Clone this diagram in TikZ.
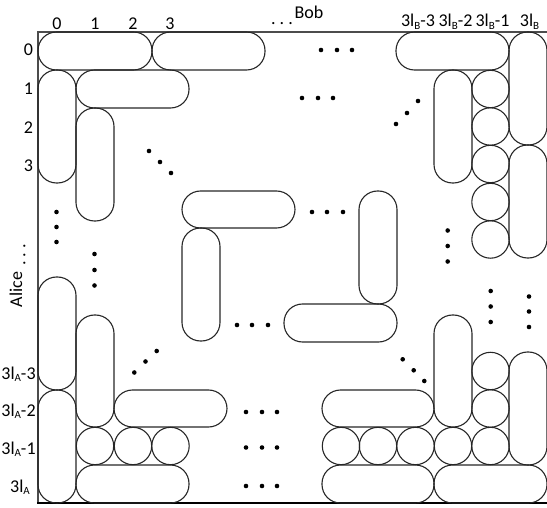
\documentclass[tikz,border=0pt]{standalone}
\usepackage{fontspec}
\setmainfont{Carlito}
\usetikzlibrary{positioning}
\newcommand\lsub[1]{\raisebox{-0.12em}{\fontsize{11}{12}\selectfont #1}}

\begin{document}
\begin{tikzpicture}[x=1pt, y=-1pt,
    pill/.style={draw=black!85, line width=1.1pt, rounded corners=18.5pt},
    bead/.style={draw=black!85, line width=1.1pt},
    dot/.style={fill=black},
    lbl/.style={font=\fontsize{18}{20}\selectfont, inner sep=0pt}
  ]
  \useasboundingbox (0,0) rectangle (547,508);
  % Frame
  \draw[line width=1.3pt, black!70] (547,32) -- (38,32) -- (38,503);
  \draw[line width=1.8pt] (37.4,503) -- (547,503);
  % Bob labels
  \node[lbl, anchor=base] (bob) at (309,18.5) {Bob};
  \node[lbl] (bdots) at (282,24) {.\ .\ .};
  \foreach \x/\t [count=\i] in {57/0,95/1,133/2,170/3}
    \node[lbl, anchor=base] (c\i) at (\x,30) {\t};
  \node[lbl, anchor=base] (cb3) at (418,27) {3l\lsub{B}-3};
  \node[lbl, anchor=base] (cb2) at (455.5,27) {3l\lsub{B}-2};
  \node[lbl, anchor=base] (cb1) at (492.5,27) {3l\lsub{B}-1};
  \node[lbl, anchor=base] (cb0) at (529.5,27) {3l\lsub{B}};
  % Alice labels
  \node[lbl, rotate=90] (alice) at (16,289.5) {Alice};
  \node[lbl, rotate=90] (adots) at (24.5,255) {.\ .\ .};
  \foreach \y/\t [count=\i] in {50/0,89/1,128/2,166/3}
    \node[lbl] (r\i) at (28.5,\y) {\t};
  \node[lbl, anchor=base] (ra3) at (18.5,379) {3l\lsub{A}-3};
  \node[lbl, anchor=base] (ra2) at (18.5,416) {3l\lsub{A}-2};
  \node[lbl, anchor=base] (ra1) at (18.5,454) {3l\lsub{A}-1};
  \node[lbl, anchor=base] (ra0) at (20,492) {3l\lsub{A}};
  % Top-left block
  \draw[pill] (38,32) rectangle (152,70);
  \draw[pill] (152,32) rectangle (265,70);
  \draw[pill] (38,70) rectangle (76,183);
  \draw[pill] (76,70) rectangle (189,108);
  \draw[pill] (76,108) rectangle (114,221);
  % Top-right block
  \draw[pill] (396,32) rectangle (509,70);
  \draw[pill] (509,32) rectangle (547,145);
  \draw[pill] (509,145) rectangle (547,258);
  \draw[pill] (434,70) rectangle (472,183);
  \foreach \y in {89,126.5,164,202,239.5}
    \draw[bead] (490.5,\y) circle (18.7);
  % Middle block
  \draw[pill] (182,191) rectangle (295,228);
  \draw[pill] (182,228) rectangle (220,341);
  \draw[pill] (359,191) rectangle (397,304);
  \draw[pill] (284,304) rectangle (397,342);
  % Bottom-left block
  \draw[pill] (38,277) rectangle (76,390);
  \draw[pill] (38,390) rectangle (76,503);
  \draw[pill] (76,315) rectangle (114,427);
  \draw[pill] (114,390) rectangle (227,427);
  \foreach \x in {95,133,170.5}
    \draw[bead] (\x,446) circle (18.7);
  \draw[pill] (76,465) rectangle (189,503);
  % Bottom-right block
  \draw[pill] (322,390) rectangle (434,427);
  \draw[pill] (434,315) rectangle (472,427);
  \draw[pill] (509,352) rectangle (547,465);
  \foreach \x in {341,378,415.5,453,490.5}
    \draw[bead] (\x,446) circle (18.7);
  \foreach \y in {371,408.5}
    \draw[bead] (490.5,\y) circle (18.7);
  \draw[pill] (322,465) rectangle (434,503);
  \draw[pill] (434,465) rectangle (547,503);
  % Dots
  \foreach \x/\y in {321/50,337/50,352/50, 302/98,318/98,333/98,
      396/124,407/113,418/101, 149/151,160/162,171/173,
      56.5/212,56.5/227,56.5/242, 94.5/254,94.5/270,94.5/285.5,
      237/325,252/325,268/325, 312/212,327/212,343/212,
      447.7/230.5,447.7/246,447.7/261.5, 490.7/291,490.7/306.5,490.7/322,
      529/296.5,529/311.5,529/327, 134.3/372.5,145.5/361.5,156.7/351,
      402.7/359.3,413.7/370.3,424.3/381,
      246/412,262/412,277/412, 246/447.5,262/447.5,277/447.5,
      246/486,262/486,277/486}
    \fill[dot] (\x,\y) circle (2.3);
\end{tikzpicture}
\end{document}
